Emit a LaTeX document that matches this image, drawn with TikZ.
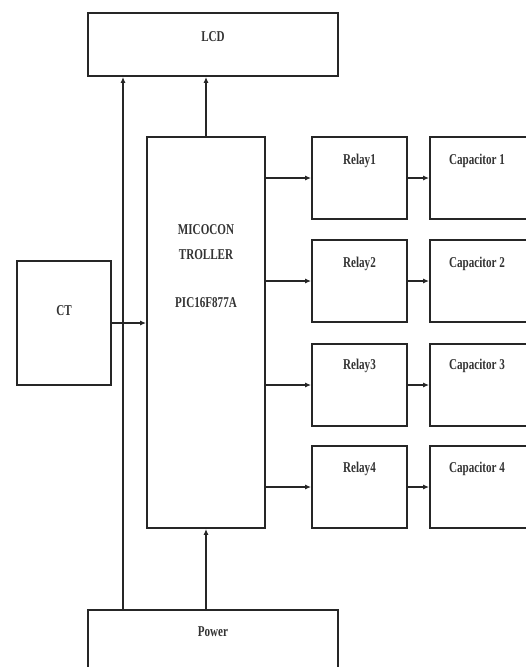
\documentclass[tikz,border=0pt]{standalone}
\usepackage{fontspec}
\usepackage{graphicx}
\setmainfont{Liberation Serif}
\usetikzlibrary{arrows.meta}
\newcommand{\cond}[1]{\scalebox{0.74}[1]{#1}}
\tikzset{
  box/.style={draw=black!85, line width=1.8pt, rectangle, inner sep=0pt, anchor=center},
  lbl/.style={font=\fontsize{15}{17}\selectfont\bfseries, text=black!80, inner sep=0pt, anchor=center},
  arr/.style={draw=black!85, line width=1.7pt, -{Latex[length=6pt,width=5pt]}},
}
\begin{document}
\begin{tikzpicture}[x=1pt,y=-1pt]
\useasboundingbox (0,0) rectangle (526,667);
% boxes
\node[box, minimum width=250pt, minimum height=63pt] (lcd) at (213,44.5) {};
\node[box, minimum width=118pt, minimum height=391pt] (micro) at (206,332.5) {};
\node[box, minimum width=94pt, minimum height=124pt] (ct) at (64,323) {};
\node[box, minimum width=250pt, minimum height=70pt] (power) at (213,645) {};
\node[box, minimum width=95pt, minimum height=82pt] (r1) at (359.5,178) {};
\node[box, minimum width=95pt, minimum height=82pt] (r2) at (359.5,281) {};
\node[box, minimum width=95pt, minimum height=82pt] (r3) at (359.5,385) {};
\node[box, minimum width=95pt, minimum height=82pt] (r4) at (359.5,487) {};
\node[box, minimum width=102pt, minimum height=82pt] (c1) at (481,178) {};
\node[box, minimum width=102pt, minimum height=82pt] (c2) at (481,281) {};
\node[box, minimum width=102pt, minimum height=82pt] (c3) at (481,385) {};
\node[box, minimum width=102pt, minimum height=82pt] (c4) at (481,487) {};
% labels
\node[lbl] (tlcd) at (213,37) {\cond{LCD}};
\node[lbl] (tm1) at (206,230) {\cond{MICOCON}};
\node[lbl] (tm2) at (206,255) {\cond{TROLLER}};
\node[lbl] (tm3) at (206,303) {\cond{PIC16F877A}};
\node[lbl] (tct) at (64,311) {\cond{CT}};
\node[lbl] (tpow) at (213,632) {\cond{Power}};
\node[lbl] (tr1) at (359.5,161) {\cond{Relay1}};
\node[lbl] (tr2) at (359.5,264) {\cond{Relay2}};
\node[lbl] (tr3) at (359.5,366) {\cond{Relay3}};
\node[lbl] (tr4) at (359.5,469) {\cond{Relay4}};
\node[lbl] (tc1) at (477,161) {\cond{Capacitor 1}};
\node[lbl] (tc2) at (477,264) {\cond{Capacitor 2}};
\node[lbl] (tc3) at (477,366) {\cond{Capacitor 3}};
\node[lbl] (tc4) at (477,469) {\cond{Capacitor 4}};
% connectors
\coordinate (bus) at (123,0);
\draw[arr] (bus |- power.north) -- (bus |- lcd.south);
\draw[arr] (micro.north) -- (micro.north |- lcd.south);
\draw[arr] (micro.south |- power.north) -- (micro.south);
\draw[arr] (ct.east) -- (ct.east -| micro.west);
\foreach \i in {1,2,3,4}{
  \draw[arr] (micro.east |- r\i.west) -- (r\i.west);
  \draw[arr] (r\i.east) -- (c\i.west);
}
\end{tikzpicture}
\end{document}
